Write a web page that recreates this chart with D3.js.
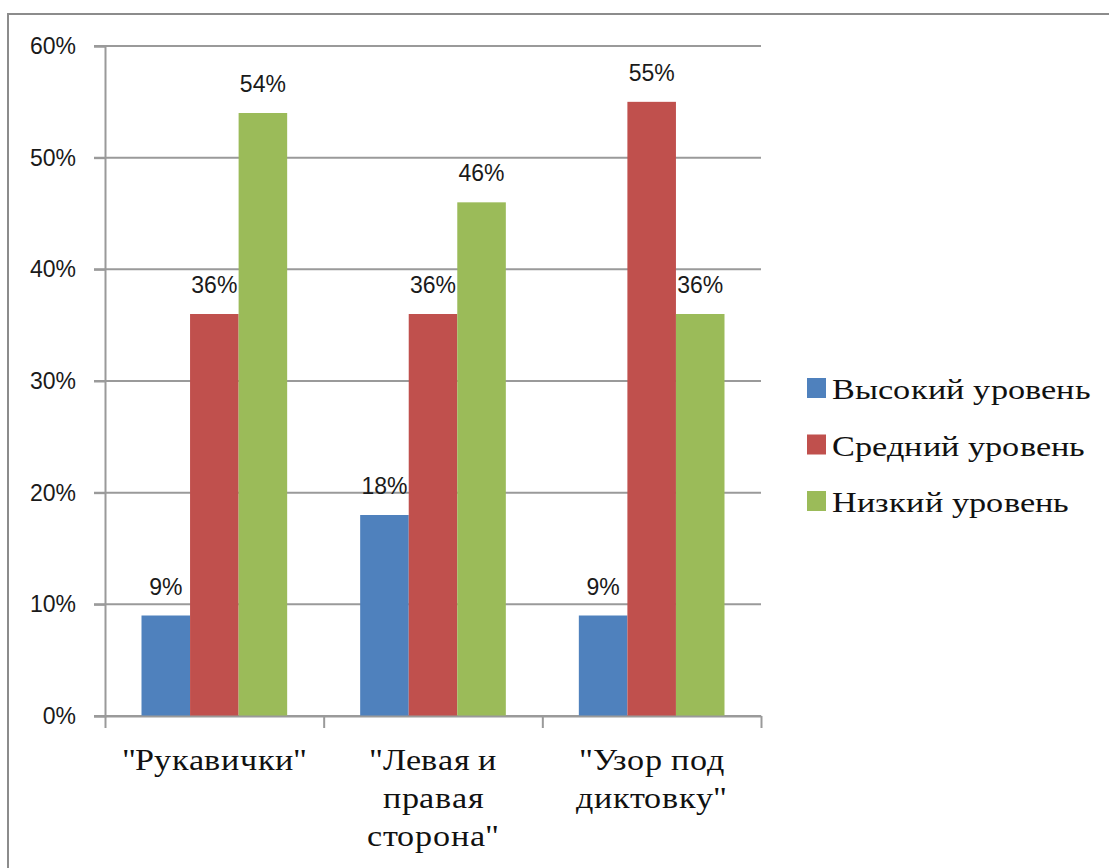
<!DOCTYPE html>
<html><head><meta charset="utf-8">
<script src="https://cdn.jsdelivr.net/npm/d3@7"></script>
<style>
@font-face { font-family: 'ChartSerif'; src: local('Liberation Serif'), local('LiberationSerif'), local('Liberation Serif Regular'), local('LiberationSerif-Regular'); }
</style>
</head><body style="margin:0;background:#fff">
<svg id="c" width="1109" height="868"></svg>
<script>
const categories = [["\"Рукавички\""], ["\"Левая и", "правая", "сторона\""], ["\"Узор под", "диктовку\""]];
const seriesNames = ["Высокий уровень", "Средний уровень", "Низкий уровень"];
const seriesColors = ["#4F81BD", "#C0504D", "#9BBB59"];
const high = [0.09, 0.18, 0.09];
const mid = [0.36, 0.36, 0.55];
const low = [0.54, 0.46, 0.36];
const yTicks = [0, 0.1, 0.2, 0.3, 0.4, 0.5, 0.6];

const values = [high, mid, low];
const svg = d3.select("#c");
const fmt = d3.format(".0%");
const SERIF = "ChartSerif, 'Liberation Serif', serif";
const SANS = "Liberation Sans";

svg.append("rect").attr("x", 8).attr("y", 14).attr("width", 1120).attr("height", 900)
  .attr("fill", "none").attr("stroke", "#8c8c8c").attr("stroke-width", 2);

const catIdx = categories.map((c, i) => i);
const x = d3.scaleBand().domain(catIdx).range([105, 761]).padding(0);
const x1 = d3.scaleBand().domain(d3.range(seriesNames.length)).range([36.5, x.bandwidth() - 36.5]).padding(0);
const y = d3.scaleLinear().domain([0, 0.6]).range([716, 46]);

svg.append("g").selectAll("line").data(yTicks).join("line")
  .attr("x1", 94).attr("x2", 761).attr("y1", d => y(d)).attr("y2", d => y(d))
  .attr("stroke", "#9a9a9a").attr("stroke-width", 2);

seriesNames.forEach((s, si) => {
  svg.append("g").selectAll("rect").data(values[si]).join("rect")
    .attr("x", (d, i) => x(i) + x1(si)).attr("width", x1.bandwidth())
    .attr("y", d => y(d)).attr("height", d => y(0) - y(d))
    .attr("fill", seriesColors[si]);
  svg.append("g").selectAll("text").data(values[si]).join("text")
    .attr("x", (d, i) => x(i) + x1(si) + x1.bandwidth() / 2)
    .attr("y", d => y(d) - 21)
    .attr("text-anchor", "middle")
    .style("font-family", SANS).style("font-size", "23px")
    .attr("fill", "#1a1a1a")
    .text(d => fmt(d));
});

const yAxis = svg.append("g").attr("transform", "translate(105,0)")
  .call(d3.axisLeft(y).tickValues(yTicks).tickFormat(fmt).tickSize(11).tickPadding(18));
yAxis.selectAll("path,line").attr("stroke", "#9a9a9a").attr("stroke-width", 2);
yAxis.selectAll("text").style("font-family", SANS).style("font-size", "23px").attr("fill", "#1a1a1a");

const xb = d3.scaleLinear().domain([0, categories.length]).range([105, 761]);
const xAxis = svg.append("g").attr("transform", "translate(0,716)")
  .call(d3.axisBottom(xb).ticks(categories.length).tickFormat("").tickSize(12).tickSizeOuter(0));
xAxis.selectAll("path,line").attr("stroke", "#9a9a9a").attr("stroke-width", 2);

const sxCat = 1.1;
categories.forEach((lines, i) => {
  svg.append("g").selectAll("text").data(lines).join("text")
    .attr("text-anchor", "middle")
    .attr("transform", (d, j) => `translate(${x(i) + x.bandwidth() / 2},${770 + j * 38}) scale(${sxCat},1)`)
    .style("font-family", SERIF).style("font-size", "31px")
    .attr("fill", "#111").text(d => d);
});

const sxLeg = 1.18;
const lg = svg.append("g").selectAll("g").data(seriesNames).join("g")
  .attr("transform", (d, i) => `translate(807,${378 + i * 56.5})`);
lg.append("rect").attr("width", 19).attr("height", 20).attr("fill", (d, i) => seriesColors[i]);
lg.append("text").attr("transform", `translate(25,21) scale(${sxLeg},1)`)
  .style("font-family", SERIF).style("font-size", "29px")
  .attr("fill", "#111").text(d => d);
</script>
</body></html>
